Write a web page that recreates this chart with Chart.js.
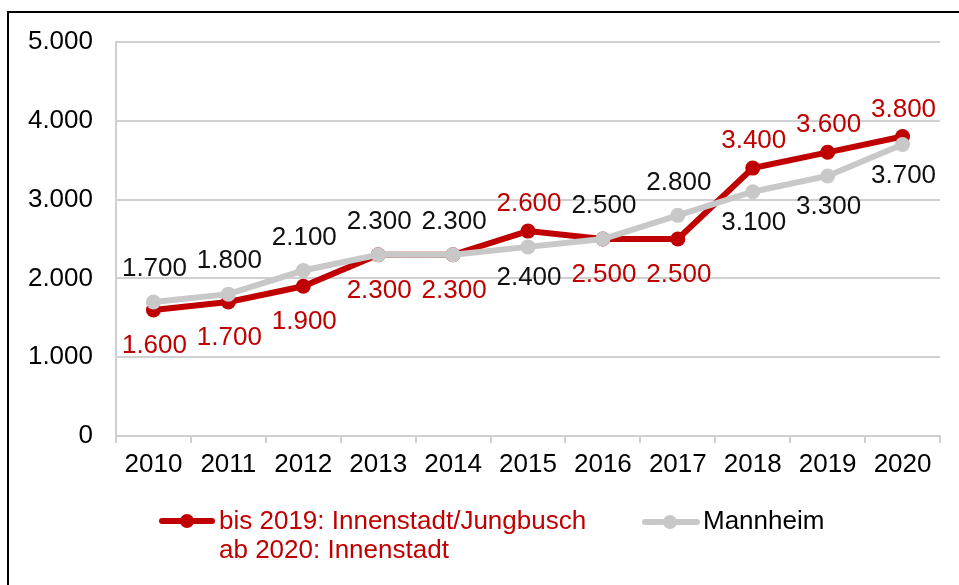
<!DOCTYPE html>
<html>
<head>
<meta charset="utf-8">
<script src="https://cdn.jsdelivr.net/npm/chart.js@4.4.1/dist/chart.umd.min.js"></script>
<style>
  html, body { margin: 0; padding: 0; background: #fff; overflow: hidden; }
  #wrap { position: relative; width: 959px; height: 585px; }
  #frame { position: absolute; left: 7px; top: 11px; width: 980px; height: 620px;
           border-left: 2px solid #000; border-top: 2px solid #000; box-sizing: border-box; }
  canvas { position: absolute; left: 0; top: 0; }
</style>
</head>
<body>
<div id="wrap">
  <div id="frame"></div>
  <canvas id="c" width="959" height="585"></canvas>
</div>
<script>
const categories = ['2010','2011','2012','2013','2014','2015','2016','2017','2018','2019','2020'];
const innenstadt = [1600,1700,1900,2300,2300,2600,2500,2500,3400,3600,3800];
const mannheim   = [1700,1800,2100,2300,2300,2400,2500,2800,3100,3300,3700];
const yTicks = [0,1000,2000,3000,4000,5000];
const legendRed = ['bis 2019: Innenstadt/Jungbusch', 'ab 2020: Innenstadt'];
const legendGray = 'Mannheim';

const RED = '#c00000';
const GRAY = '#c8c8c8';
const FONT = '"Liberation Sans", Arial, sans-serif';

function fmt(n) {
  return String(n).replace(/\B(?=(\d{3})+(?!\d))/g, '.');
}

const labelPlugin = {
  id: 'valueLabels',
  afterDatasetsDraw(chart) {
    const ctx = chart.ctx;
    ctx.save();
    ctx.font = '26px ' + FONT;
    ctx.textAlign = 'center';
    ctx.textBaseline = 'middle';
    const metaR = chart.getDatasetMeta(0);
    const metaG = chart.getDatasetMeta(1);
    const a = chart.data.datasets[0].data;
    const b = chart.data.datasets[1].data;
    for (let i = 0; i < a.length; i++) {
      const redAbove = a[i] > b[i];
      const pr = metaR.data[i], pg = metaG.data[i];
      ctx.fillStyle = RED;
      ctx.fillText(fmt(a[i]), pr.x + 1, redAbove ? pr.y - 27 : pr.y + 36);
      ctx.fillStyle = '#111';
      ctx.fillText(fmt(b[i]), pg.x + 1, redAbove ? pg.y + 31 : pg.y - 33);
    }
    ctx.restore();
  },
  afterDraw(chart) {
    const ctx = chart.ctx;
    ctx.save();
    ctx.font = '26px ' + FONT;
    ctx.textBaseline = 'middle';
    ctx.textAlign = 'left';
    ctx.lineWidth = 6; ctx.lineCap = 'round';
    // red legend item
    ctx.strokeStyle = RED;
    ctx.beginPath(); ctx.moveTo(162, 521); ctx.lineTo(212, 521); ctx.stroke();
    ctx.fillStyle = RED;
    ctx.beginPath(); ctx.arc(187, 521, 7, 0, Math.PI * 2); ctx.fill();
    ctx.fillText(legendRed[0], 219, 522);
    ctx.fillText(legendRed[1], 219, 551);
    // gray legend item
    ctx.strokeStyle = GRAY;
    ctx.beginPath(); ctx.moveTo(645, 522); ctx.lineTo(697, 522); ctx.stroke();
    ctx.fillStyle = GRAY;
    ctx.beginPath(); ctx.arc(670, 522, 7, 0, Math.PI * 2); ctx.fill();
    ctx.fillStyle = '#000';
    ctx.fillText(legendGray, 703, 522);
    ctx.restore();
  }
};

new Chart(document.getElementById('c'), {
  type: 'line',
  data: {
    labels: categories,
    datasets: [
      { label: legendRed.join(' '), data: innenstadt, borderColor: RED, backgroundColor: RED,
        borderWidth: 6, pointRadius: 7.5, pointBorderWidth: 0, pointBackgroundColor: RED,
        tension: 0, order: 2 },
      { label: legendGray, data: mannheim, borderColor: GRAY, backgroundColor: GRAY,
        borderWidth: 6, pointRadius: 7.5, pointBorderWidth: 0, pointBackgroundColor: GRAY,
        tension: 0, order: 1 }
    ]
  },
  options: {
    responsive: false,
    animation: false,
    events: [],
    layout: { padding: { left: 0, right: 19, top: 42, bottom: 89 } },
    plugins: { legend: { display: false }, tooltip: { enabled: false } },
    scales: {
      x: {
        offset: true,
        grid: { offset: true, drawOnChartArea: false, drawTicks: true, tickLength: 7, color: '#d0d0d0', lineWidth: 2 },
        border: { display: true, color: '#d0d0d0', width: 2 },
        ticks: { color: '#000', font: { size: 26, family: FONT }, padding: 6, maxRotation: 0, autoSkip: false },
        afterFit(s) { s.height = 60; }
      },
      y: {
        min: 0, max: 5000,
        afterBuildTicks(s) { s.ticks = yTicks.map(v => ({ value: v })); },
        grid: { drawTicks: false, color: '#d0d0d0', lineWidth: 2 },
        border: { display: true, color: '#d0d0d0', width: 2 },
        ticks: { color: '#000', font: { size: 26, family: FONT }, padding: 23, callback: v => fmt(v) },
        afterFit(s) { s.width = 116; }
      }
    }
  },
  plugins: [labelPlugin]
});
</script>
</body>
</html>
